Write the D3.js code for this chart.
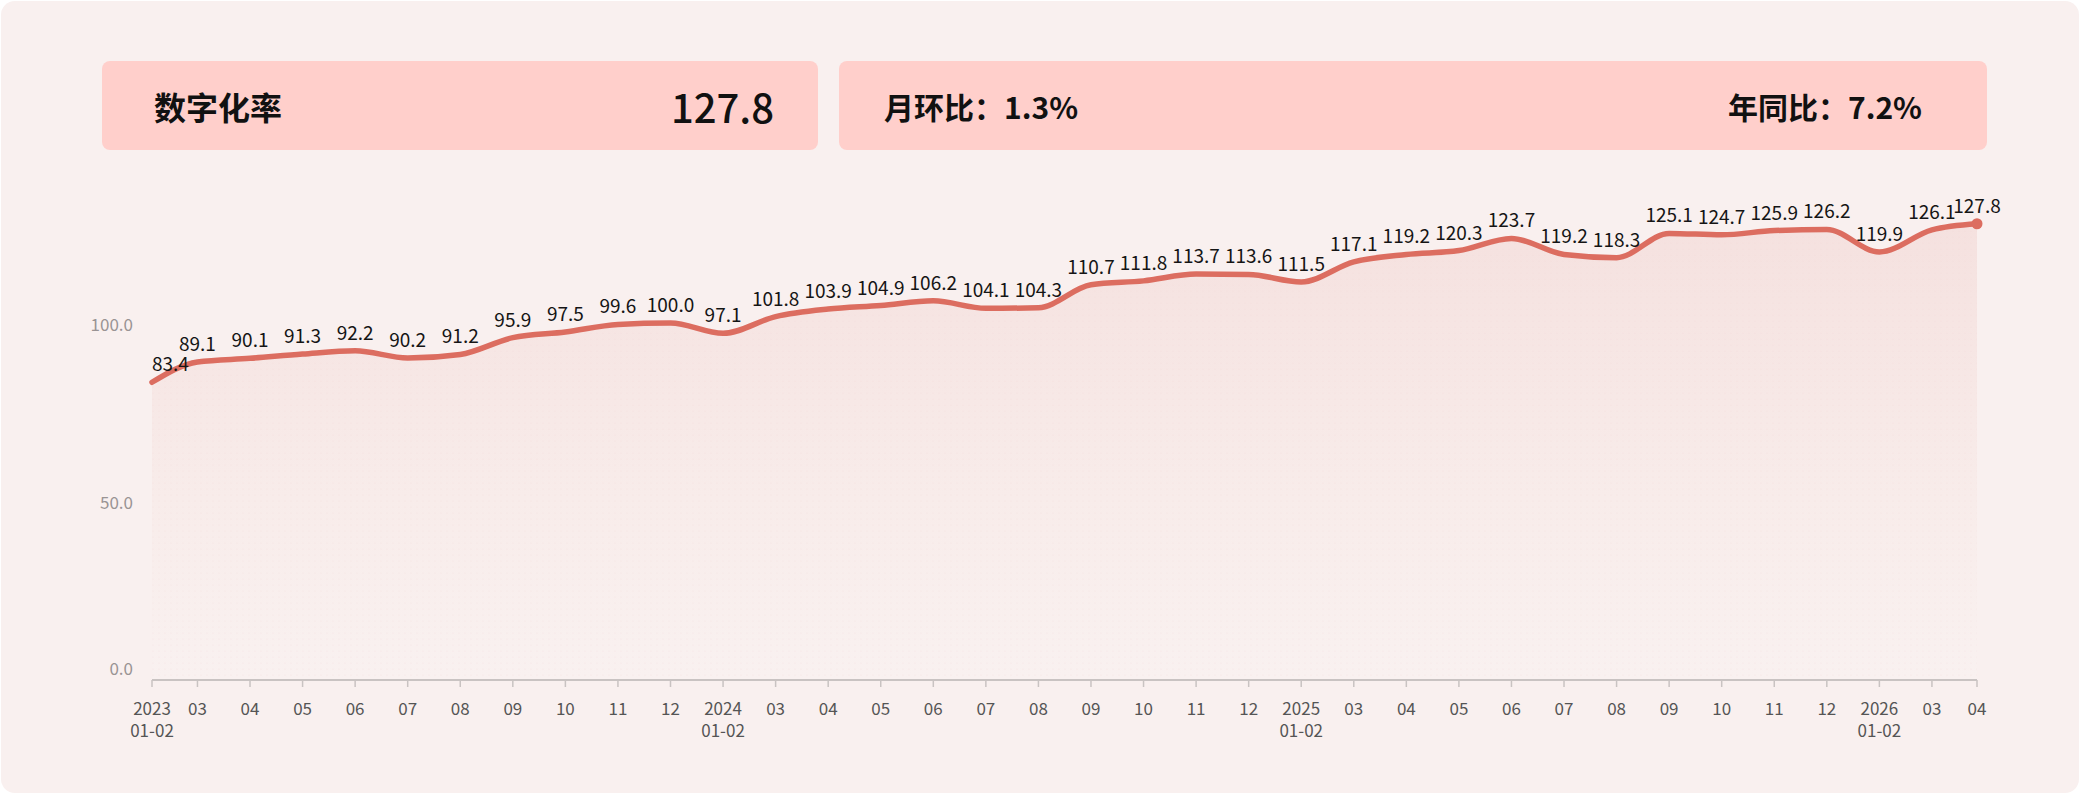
<!DOCTYPE html>
<html>
<head>
<meta charset="utf-8">
<script src="https://cdn.jsdelivr.net/npm/d3@7"></script>
<style>
  html, body { margin: 0; padding: 0; background: #ffffff; }
  svg text { font-family: "Noto Sans CJK SC", "Noto Sans", sans-serif; }
</style>
</head>
<body>
<div id="chart"></div>
<script>
// chart data
var periods = ["2023\n01-02", "03", "04", "05", "06", "07", "08", "09", "10", "11", "12",
               "2024\n01-02", "03", "04", "05", "06", "07", "08", "09", "10", "11", "12",
               "2025\n01-02", "03", "04", "05", "06", "07", "08", "09", "10", "11", "12",
               "2026\n01-02", "03", "04"];
var rates = [83.4, 89.1, 90.1, 91.3, 92.2, 90.2, 91.2, 95.9, 97.5, 99.6, 100.0,
             97.1, 101.8, 103.9, 104.9, 106.2, 104.1, 104.3, 110.7, 111.8, 113.7, 113.6,
             111.5, 117.1, 119.2, 120.3, 123.7, 119.2, 118.3, 125.1, 124.7, 125.9, 126.2,
             119.9, 126.1, 127.8];
var yTicks = [0, 50, 100];
var headline = {title: "数字化率", value: "127.8", mom: "月环比：1.3%", yoy: "年同比：7.2%"};

// set the dimensions
var W = 2080, H = 794;
var plotLeft = 152, plotRight = 1977, plotBottom = 680;

var svg = d3.select("#chart").append("svg")
    .attr("width", W)
    .attr("height", H);

// card background
svg.append("rect")
    .attr("x", 1).attr("y", 1)
    .attr("width", W - 2).attr("height", H - 2)
    .attr("rx", 14)
    .attr("fill", "#f9f0ef");

// header boxes
svg.append("rect")
    .attr("x", 102).attr("y", 61).attr("width", 716).attr("height", 89)
    .attr("rx", 8).attr("fill", "#ffcfcb");
svg.append("rect")
    .attr("x", 839).attr("y", 61).attr("width", 1148).attr("height", 89)
    .attr("rx", 8).attr("fill", "#ffcfcb");

svg.append("text").attr("x", 154).attr("y", 106)
    .attr("dominant-baseline", "central")
    .style("font-size", "32px").style("font-weight", 600).attr("fill", "#111")
    .text(headline.title);
svg.append("text").attr("x", 774).attr("y", 106)
    .attr("dominant-baseline", "central").attr("text-anchor", "end")
    .style("font-size", "40px").style("font-weight", 500).attr("fill", "#111")
    .text(headline.value);
svg.append("text").attr("x", 884).attr("y", 106)
    .attr("dominant-baseline", "central")
    .style("font-size", "30px").style("font-weight", 600).attr("fill", "#111")
    .text(headline.mom);
svg.append("text").attr("x", 1922).attr("y", 106)
    .attr("dominant-baseline", "central").attr("text-anchor", "end")
    .style("font-size", "30px").style("font-weight", 600).attr("fill", "#111")
    .text(headline.yoy);

// set the ranges (end points are pulled in to the plot edges)
var xi = d3.scaleLinear().domain([0, periods.length - 1]).range([144.9, 1984.5]);
function x(i) { return Math.max(plotLeft, Math.min(plotRight, xi(i))); }
var y = d3.scaleLinear().domain([0, 140]).range([plotBottom, plotBottom - 140 * 3.57]);

var defs = svg.append("defs");
var grad = defs.append("linearGradient")
    .attr("id", "areaGrad").attr("x1", 0).attr("y1", 0).attr("x2", 0).attr("y2", 1);
grad.append("stop").attr("offset", "0%").attr("stop-color", "#f5e1df");
grad.append("stop").attr("offset", "60%").attr("stop-color", "#f8ecea");
grad.append("stop").attr("offset", "100%").attr("stop-color", "#f9f1f0");

var pat = defs.append("pattern")
    .attr("id", "dots").attr("patternUnits", "userSpaceOnUse")
    .attr("width", 6).attr("height", 6);
pat.append("circle").attr("cx", 3).attr("cy", 3).attr("r", 0.6)
    .attr("fill", "#e6cbc7").attr("opacity", 0.35);

var area = d3.area()
    .x(function(d, i) { return x(i); })
    .y0(y(0))
    .y1(function(d) { return y(d); })
    .curve(d3.curveMonotoneX);

var valueline = d3.line()
    .x(function(d, i) { return x(i); })
    .y(function(d) { return y(d); })
    .curve(d3.curveMonotoneX);

svg.append("path").datum(rates).attr("d", area).attr("fill", "url(#areaGrad)");
svg.append("path").datum(rates).attr("d", area).attr("fill", "url(#dots)");

// y labels
svg.selectAll(".ylab")
    .data(yTicks)
  .enter().append("text")
    .attr("class", "ylab")
    .attr("x", 133)
    .attr("y", function(d) { return Math.min(y(d), y(0) - 13); })
    .attr("text-anchor", "end")
    .attr("dominant-baseline", "central")
    .style("font-size", "17px")
    .attr("fill", "#9a9494")
    .text(function(d) { return d.toFixed(1); });

// x axis
svg.append("line")
    .attr("x1", plotLeft).attr("x2", plotRight)
    .attr("y1", plotBottom).attr("y2", plotBottom)
    .attr("stroke", "#c9c3c2").attr("stroke-width", 2);

svg.selectAll(".xtick")
    .data(periods)
  .enter().append("line")
    .attr("class", "xtick")
    .attr("x1", function(d, i) { return x(i); })
    .attr("x2", function(d, i) { return x(i); })
    .attr("y1", plotBottom).attr("y2", plotBottom + 7)
    .attr("stroke", "#c9c3c2").attr("stroke-width", 1.5);

var xl = svg.selectAll(".xlab")
    .data(periods)
  .enter().append("text")
    .attr("class", "xlab")
    .attr("text-anchor", "middle")
    .style("font-size", "17px")
    .attr("fill", "#555");
xl.selectAll("tspan")
    .data(function(d, i) { return d.split("\n").map(function(s) { return {s: s, i: i}; }); })
  .enter().append("tspan")
    .attr("x", function(d) { return x(d.i); })
    .attr("y", function(d, j) { return 715 + j * 22; })
    .text(function(d) { return d.s; });

// line
svg.append("path").datum(rates)
    .attr("d", valueline)
    .attr("fill", "none")
    .attr("stroke", "#dc6d60")
    .attr("stroke-width", 5.5)
    .attr("stroke-linecap", "round");

// end dot
svg.append("circle")
    .attr("cx", x(rates.length - 1))
    .attr("cy", y(rates[rates.length - 1]))
    .attr("r", 5.5)
    .attr("fill", "#dc6d60");

// value labels
svg.selectAll(".vlab")
    .data(rates)
  .enter().append("text")
    .attr("class", "vlab")
    .attr("x", function(d, i) { return x(i); })
    .attr("y", function(d) { return y(d) - 11; })
    .attr("text-anchor", function(d, i) { return i === 0 ? "start" : "middle"; })
    .style("font-size", "19px")
    .attr("fill", "#151515")
    .text(function(d) { return d.toFixed(1); });
</script>
</body>
</html>
